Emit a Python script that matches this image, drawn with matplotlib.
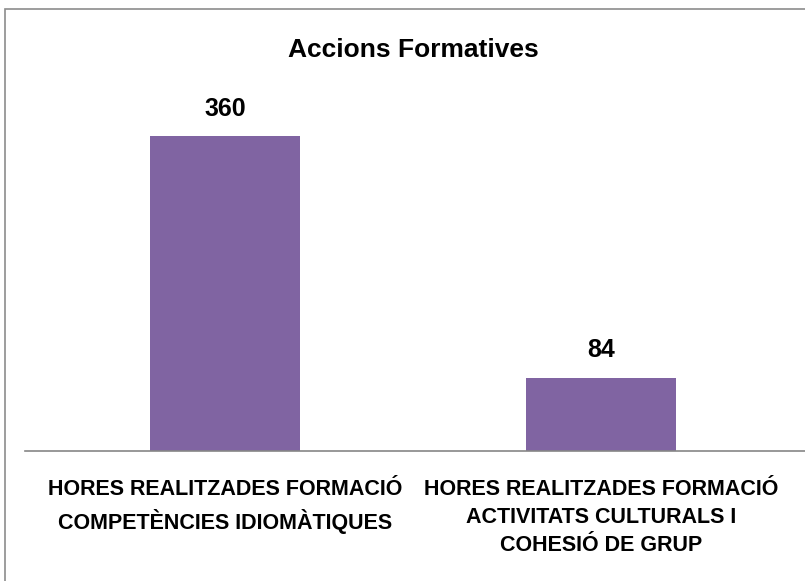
import matplotlib
matplotlib.use("Agg")
import matplotlib.pyplot as plt
from matplotlib.patches import Rectangle

categories = ["HORES REALITZADES FORMACIÓ\nCOMPETÈNCIES IDIOMÀTIQUES",
              "HORES REALITZADES FORMACIÓ\nACTIVITATS CULTURALS I\nCOHESIÓ DE GRUP"]
values = [360, 84]
title = "Accions Formatives"

bar_color = "#8064A2"
font = "Liberation Sans"

W, H = 805, 581
fig = plt.figure(figsize=(W / 100, H / 100), dpi=100)

# outer chart border (right/bottom cut off in reference)
fig.patches.append(Rectangle((5 / W, -0.1), 1.2, (H - 9) / H + 0.1,
                             transform=fig.transFigure, fill=False,
                             edgecolor="#8c8c8c", linewidth=1.2))

# axes placed in pixel terms
left, right, bottom, top = 25, 805, 451, 100
ax = fig.add_axes([left / W, (H - bottom) / H, (right - left) / W, (bottom - top) / H])

x = list(range(len(values)))
ax.bar(x, values, width=0.4, color=bar_color)
ax.set_xlim(-0.532, 1.543)
ax.set_ylim(0, (bottom - top) / 315 * 360)

for xi, v in zip(x, values):
    ax.text(xi, v + 31, str(v), ha="center", va="center", fontsize=18,
            fontweight="bold", family=font)

for s in ["top", "right", "left"]:
    ax.spines[s].set_visible(False)
ax.spines["bottom"].set_color("#868686")
ax.spines["bottom"].set_linewidth(1.2)
ax.set_yticks([])
ax.set_xticks(x)
ax.set_xticklabels(categories, fontsize=15.5, fontweight="bold", family=font,
                   linespacing=1.45)
ax.tick_params(axis="x", length=0, pad=20)

fig.text(413 / W, (H - 50) / H, title, ha="center", va="center", fontsize=19,
         fontweight="bold", family=font)

fig.savefig("out.png", dpi=100)
